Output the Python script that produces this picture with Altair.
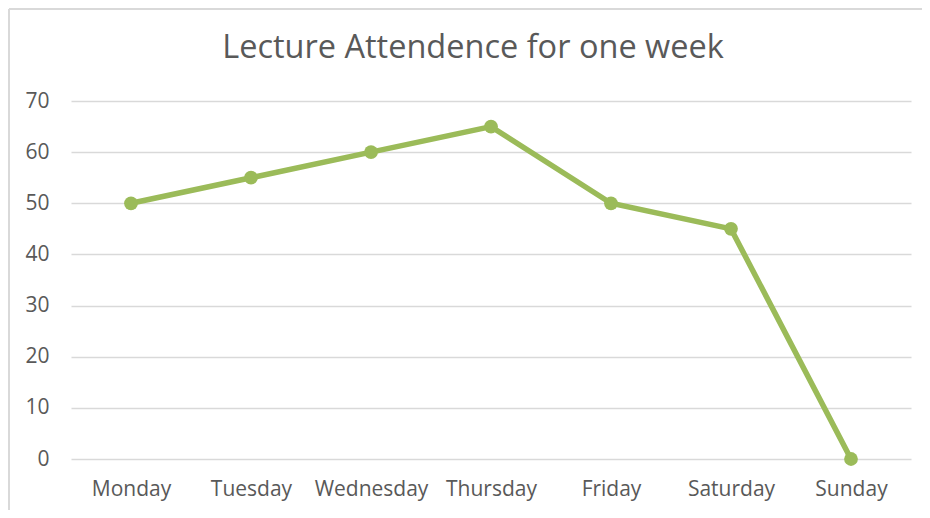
import altair as alt
import pandas as pd

days = ["Monday", "Tuesday", "Wednesday", "Thursday", "Friday", "Saturday", "Sunday"]
attendance = [50, 55, 60, 65, 50, 45, 0]
y_ticks = [0, 10, 20, 30, 40, 50, 60, 70]

df = pd.DataFrame({"day": days, "attendance": attendance})

W, H = 840, 358
PL, PT, PR, PB = 63, 93, 11, 51

x_enc = alt.X("day:N", sort=days, title=None,
              scale=alt.Scale(type="point", padding=0.5),
              axis=alt.Axis(labelAngle=0, ticks=False, domain=False, grid=False,
                            labelFontSize=21, labelColor="#595959", labelPadding=19,
                            labelFont="Open Sans"))
y_enc = alt.Y("attendance:Q", title=None,
              scale=alt.Scale(domain=[0, 70], nice=False),
              axis=alt.Axis(values=y_ticks, ticks=False, domain=False, grid=True,
                            gridColor="#d9d9d9", gridWidth=1.5,
                            labelFontSize=21, labelColor="#595959", labelPadding=22,
                            labelFont="Open Sans"))

line = alt.Chart(df).mark_line(color="#9BBB59", strokeWidth=5.5).encode(x=x_enc, y=y_enc)
pts = alt.Chart(df).mark_point(filled=True, opacity=1, color="#9BBB59", size=190).encode(
    x=alt.X("day:N", sort=days), y="attendance:Q")

one = pd.DataFrame({"a": [0]})
top_border = alt.Chart(one).mark_rule(stroke="#d9d9d9", strokeWidth=2, clip=False).encode(
    x=alt.value(-PL + 1), x2=alt.value(W + PR + 30), y=alt.value(-PT + 1))
left_border = alt.Chart(one).mark_rule(stroke="#d9d9d9", strokeWidth=2, clip=False).encode(
    x=alt.value(-PL + 1), y=alt.value(-PT + 1), y2=alt.value(H + PB + 30))

chart = alt.layer(top_border, left_border, line, pts).properties(
    width=W, height=H,
    padding={"left": PL, "top": PT, "right": PR, "bottom": PB},
    autosize=alt.AutoSizeParams(type="none"),
    title=alt.TitleParams("Lecture Attendence for one week", fontSize=32.5, font="Open Sans",
                          fontWeight="normal", color="#595959", anchor="middle",
                          frame="group", dx=-18, offset=-82, baseline="alphabetic"),
).configure_view(stroke=None)

chart.save("out.html", embed_options={"renderer": "svg", "actions": False})
